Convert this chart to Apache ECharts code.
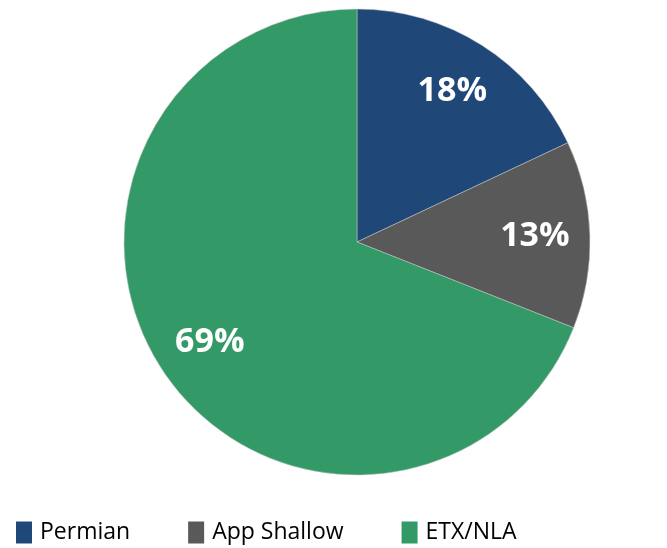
<!DOCTYPE html>
<html>
<head>
<meta charset="utf-8">
<script src="https://cdn.jsdelivr.net/npm/echarts@6/dist/echarts.min.js"></script>
<style>
  html, body { margin: 0; padding: 0; background: #fff; }
  #chart { width: 667px; height: 548px; }
</style>
</head>
<body>
<div id="chart"></div>
<script>
const regions = ['Permian', 'App Shallow', 'ETX/NLA'];
const shares = [18, 13, 69];
const colors = ['#1F4778', '#595959', '#339966'];

const chart = echarts.init(document.getElementById('chart'));

const pieData = regions.map((name, i) => ({
    name: name,
    value: shares[i],
    itemStyle: { color: colors[i] }
}));

chart.setOption({
    animation: false,
    legend: {
        data: regions,
        left: 16,
        top: 521,
        padding: 0,
        itemWidth: 16,
        itemHeight: 22,
        itemGap: 58,
        icon: 'rect',
        itemStyle: { borderWidth: 0 },
        textStyle: {
            fontFamily: 'Open Sans',
            fontSize: 23,
            color: '#000',
            lineHeight: 22,
            padding: [0, 0, 0, 3]
        }
    },
    series: [
        {
            // the pie itself
            type: 'pie',
            center: [357, 242],
            radius: [0, 233],
            startAngle: 90,
            clockwise: true,
            label: { show: false },
            labelLine: { show: false },
            itemStyle: { borderColor: '#c8c8c8', borderWidth: 0.5 },
            emphasis: { disabled: true },
            data: pieData
        },
        {
            // invisible ring, only used to push labels outward
            type: 'pie',
            center: [357, 242],
            radius: [117, 233],
            startAngle: 90,
            clockwise: true,
            silent: true,
            legendHoverLink: false,
            itemStyle: { color: 'transparent' },
            label: {
                show: true,
                position: 'inside',
                formatter: '{c}%',
                color: '#fff',
                fontFamily: 'Open Sans',
                fontWeight: 'bold',
                fontSize: 34
            },
            labelLine: { show: false },
            emphasis: { disabled: true },
            data: regions.map((name, i) => ({ name: name + ' ', value: shares[i] }))
        }
    ]
});
</script>
</body>
</html>
